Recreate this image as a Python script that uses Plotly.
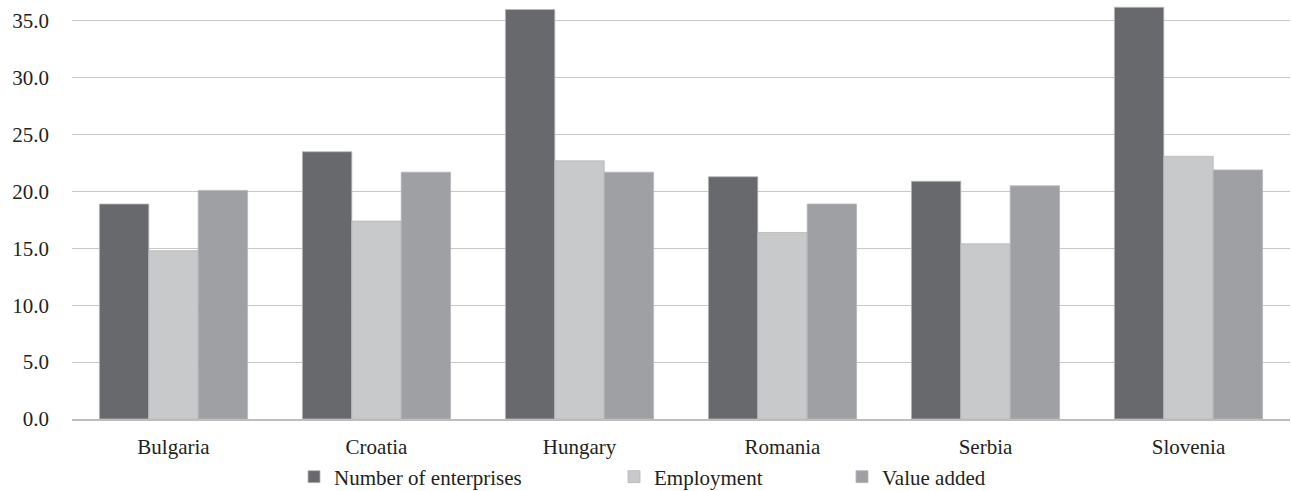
import plotly.graph_objects as go

countries = ["Bulgaria", "Croatia", "Hungary", "Romania", "Serbia", "Slovenia"]
enterprises = [18.9, 23.5, 36.0, 21.3, 20.9, 36.2]
employment = [14.8, 17.4, 22.7, 16.4, 15.4, 23.1]
value_added = [20.1, 21.7, 21.7, 18.9, 20.5, 21.9]
y_ticks = [0, 5, 10, 15, 20, 25, 30, 35]
y_tick_labels = ["0.0", "5.0", "10.0", "15.0", "20.0", "25.0", "30.0", "35.0"]

FONT = "'Liberation Serif', 'Times New Roman', serif"
TXT = "#231f20"
colors = ["#68696d", "#c8c9cb", "#9fa0a3"]

fig = go.Figure()
series = [("Number of enterprises", enterprises, "legend"),
          ("Employment", employment, "legend2"),
          ("Value added", value_added, "legend3")]
for (name, vals, lg), c in zip(series, colors):
    fig.add_trace(go.Bar(x=countries, y=vals, name=name, legend=lg, showlegend=True,
                         marker=dict(color=c, line=dict(color="#b8b8ba", width=0.8))))

leg_common = dict(orientation="h", yanchor="middle", y=1 - 477 / 491,
                  xref="container", yref="container", xanchor="left",
                  font=dict(family=FONT, size=21, color=TXT),
                  bgcolor="rgba(0,0,0,0)", itemwidth=30, tracegroupgap=0)
fig.update_layout(
    width=1291, height=491,
    showlegend=True,
    margin=dict(l=72, r=1, t=5, b=72, autoexpand=False),
    paper_bgcolor="white", plot_bgcolor="white",
    barmode="group", bargap=0.27, bargroupgap=0,
    font=dict(family=FONT, size=21, color=TXT),
    legend=dict(x=294 / 1291, **leg_common),
    legend2=dict(x=614 / 1291, **leg_common),
    legend3=dict(x=842 / 1291, **leg_common),
    xaxis=dict(showgrid=False, showline=True, linecolor="#bdbdbd", linewidth=1.5,
               ticks="", tickfont=dict(family=FONT, size=21, color=TXT),
               ticklabelstandoff=8),
    yaxis=dict(range=[0, 36.4], tickvals=y_ticks, ticktext=y_tick_labels,
               showgrid=True, gridcolor="#c8c8c8", gridwidth=1.2,
               zeroline=False, showline=False, ticks="",
               tickfont=dict(family=FONT, size=21, color=TXT),
               ticklabelstandoff=22),
)
fig.write_html("out.html")
